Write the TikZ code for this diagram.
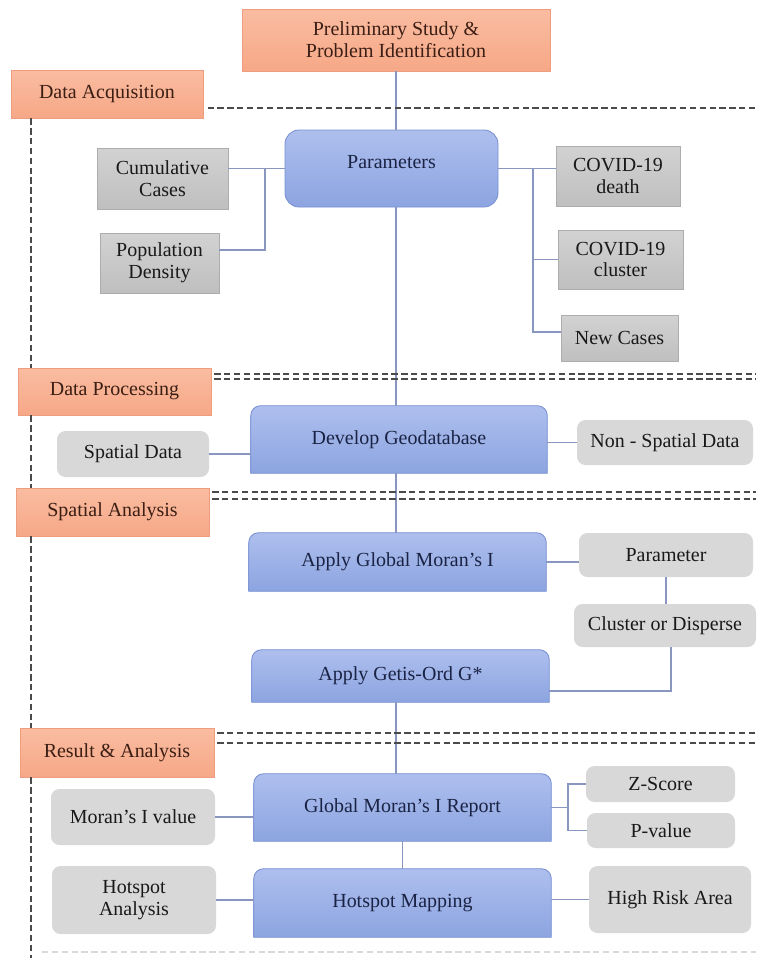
\documentclass[tikz,border=0pt]{standalone}
\usepackage{fontspec}
\setmainfont{Liberation Serif}
\usepackage{tikz}
\usetikzlibrary{backgrounds}
\usepackage{xcolor}

\definecolor{phasetop}{HTML}{FABCA1}
\definecolor{phasebot}{HTML}{F6A887}
\definecolor{phaseline}{HTML}{EE9E7E}
\definecolor{phasetext}{HTML}{3B1E14}
\definecolor{steptop}{HTML}{AEBFEE}
\definecolor{stepbot}{HTML}{8CA4E0}
\definecolor{stepline}{HTML}{7890D2}
\definecolor{steptext}{HTML}{1A2344}
\definecolor{paramtop}{HTML}{D2D2D2}
\definecolor{parambot}{HTML}{BFBFBF}
\definecolor{paramline}{HTML}{ADADAD}
\definecolor{detailgray}{HTML}{D8D8D8}
\definecolor{linkblue}{HTML}{8896C0}
\definecolor{dashgray}{HTML}{4A4A4A}

\tikzset{
  phase/.style={draw=phaseline, line width=0.6pt, top color=phasetop, bottom color=phasebot, text=phasetext, align=center},
  param/.style={draw=paramline, line width=0.6pt, top color=paramtop, bottom color=parambot, text=black!90, align=center},
  detail/.style={fill=detailgray, rounded corners=6pt, text=black!90, align=center},
  stepbox/.style={text=steptext, align=center},
  stepshade/.style={draw=stepline, line width=0.6pt, top color=steptop, bottom color=stepbot},
  link/.style={draw=linkblue, line width=1pt},
  divider/.style={draw=dashgray, line width=1pt, dash pattern=on 4.5pt off 2.5pt},
}

\begin{document}
\begin{tikzpicture}[font=\fontsize{14.2}{15.6}\selectfont]
    \useasboundingbox (0,0) rectangle (18.9,-23.95);

    \coordinate (lE) at (0.775,0);
    \coordinate (rE) at (18.9,0);

    % phases
    \node[phase, minimum width=7.7cm, minimum height=1.55cm] (PrSt) at (9.9,-1.0) {Preliminary Study \&\\Problem Identification};
    \node[phase, minimum width=4.8cm, minimum height=1.2cm] (DaAc) at (2.675,-2.35) {Data Acquisition};
    \node[phase, minimum width=4.825cm, minimum height=1.175cm] (DaPr) at (2.8625,-9.7875) {Data Processing};
    \node[phase, minimum width=4.825cm, minimum height=1.2cm] (SpAn) at (2.8125,-12.8) {Spatial Analysis};
    \node[phase, minimum width=4.85cm, minimum height=1.225cm] (ReAn) at (2.925,-18.8125) {Result \& Analysis};

    % data acquisition
    \node[draw=stepline, line width=0.6pt, top color=steptop, bottom color=stepbot, rounded corners=10pt, text=steptext,
          minimum width=5.325cm, minimum height=1.925cm] (Pars) at (9.7875,-4.2125) {\raisebox{0.16cm}[\height][\depth]{Parameters}};
    \node[param, minimum width=3.275cm, minimum height=1.525cm] (CuCa) at (4.0625,-4.4625) {Cumulative\\Cases};
    \node[param, minimum width=2.975cm, minimum height=1.5cm] (PoDe) at (3.9875,-6.575) {Population\\Density};
    \node[param, minimum width=3.1cm, minimum height=1.5cm] (CoDe) at (15.45,-4.4) {COVID-19\\death};
    \node[param, minimum width=3.125cm, minimum height=1.475cm] (CoCl) at (15.5125,-6.4875) {COVID-19\\cluster};
    \node[param, minimum width=2.925cm, minimum height=1.15cm] (NeCa) at (15.4875,-8.45) {New Cases};

    % data processing
    \node[stepbox, minimum width=7.4cm, minimum height=1.675cm] (DeGe) at (9.975,-10.9875) {Develop Geodatabase};
    \node[detail, minimum width=3.8cm, minimum height=1.15cm] (SpDa) at (3.325,-11.35) {Spatial Data};
    \node[detail, minimum width=4.4cm, minimum height=1.125cm] (NoSp) at (16.625,-11.0625) {Non - Spatial Data};

    % spatial analysis
    \node[stepbox, minimum width=7.425cm, minimum height=1.45cm] (ApGl) at (9.9375,-14.05) {Apply Global Moran’s I};
    \node[detail, minimum width=4.35cm, minimum height=1.1cm] (Para) at (16.65,-13.875) {Parameter};
    \node[detail, minimum width=4.55cm, minimum height=1.075cm] (ClDi) at (16.625,-15.6375) {Cluster or Disperse};
    \node[stepbox, minimum width=7.425cm, minimum height=1.3cm] (GeOr) at (10.0125,-16.9) {Apply Getis-Ord G*};

    % result and analysis
    \node[stepbox, minimum width=7.425cm, minimum height=1.675cm] (MoRe) at (10.0625,-20.1875) {Global Moran’s I Report};
    \node[detail, minimum width=4.1cm, minimum height=1.4cm] (MoVa) at (3.325,-20.425) {Moran’s I value};
    \node[detail, minimum width=3.725cm, minimum height=0.9cm] (ZSc) at (16.5125,-19.6) {Z-Score};
    \node[detail, minimum width=3.7cm, minimum height=0.875cm] (PVa) at (16.525,-20.7625) {P-value};
    \node[stepbox, minimum width=7.425cm, minimum height=1.7cm] (HoMa) at (10.0625,-22.575) {Hotspot Mapping};
    \node[detail, minimum width=4.1cm, minimum height=1.7cm] (HoAn) at (3.35,-22.5) {Hotspot\\Analysis};
    \node[detail, minimum width=4.05cm, minimum height=1.675cm] (HiRi) at (16.75,-22.4875) {High Risk Area};

    \begin{scope}[on background layer]
      \foreach \n in {DeGe,ApGl,GeOr,MoRe,HoMa}
        \draw[stepshade] (\n.south west) -- ([yshift=-7pt]\n.north west) arc[start angle=180,end angle=90,radius=7pt]
          -- ([xshift=-7pt]\n.north east) arc[start angle=90,end angle=0,radius=7pt] -- (\n.south east) -- cycle;
    \end{scope}

    \coordinate (jL) at (6.625,0);
    \coordinate (jR) at (13.325,0);
    \coordinate (jZ) at (14.2,0);

    % main column
    \draw[link] (PrSt.south) -- (PrSt.south |- Pars.north);
    \draw[link] (PrSt.south |- Pars.south) -- (PrSt.south |- DeGe.north);
    \draw[link] (PrSt.south |- DeGe.south) -- (PrSt.south |- ApGl.north);
    \draw[link] (PrSt.south |- GeOr.south) -- (PrSt.south |- MoRe.north);
    \draw[link] (MoRe.south) -- (HoMa.north);

    % branches
    \draw[link] (Pars.west) -- (Pars.west -| CuCa.east);
    \draw[link] (jL |- Pars.west) |- ([yshift=0.33cm]PoDe.east);
    \draw[link] (Pars.east) -- (Pars.east -| CoDe.west);
    \draw[link] (jR |- Pars.east) |- ([yshift=0.15cm]NeCa.west);
    \draw[link] (jR |- CoCl.west) -- (CoCl.west);

    \draw[link] (SpDa.east) -- (SpDa.east -| DeGe.west);
    \draw[link] (NoSp.west -| DeGe.east) -- (NoSp.west);

    \draw[link] (ApGl.east) -- (ApGl.east -| Para.west);
    \draw[link] (Para.south) -- (Para.south |- ClDi.north);
    \draw[link] ([xshift=0.15cm]ClDi.south) |- ([yshift=-0.375cm]GeOr.east);

    \draw[link] (MoVa.east) -- (MoVa.east -| MoRe.west);
    \draw[link] (MoRe.east) -- (MoRe.east -| jZ);
    \draw[link] (ZSc.west) -- (ZSc.west -| jZ) -- (PVa.west -| jZ) -- (PVa.west);
    \draw[link] (HoAn.east) -- (HoAn.east -| HoMa.west);
    \draw[link] (HiRi.west -| HoMa.east) -- (HiRi.west);

    % section borders
    \draw[divider] ([xshift=3pt,yshift=-0.35cm]DaAc.east) -- ([yshift=-0.35cm]DaAc.east -| rE);
    \draw[divider] ([xshift=2pt,yshift=0.4375cm]DaPr.east) -- ([yshift=0.4375cm]DaPr.east -| rE);
    \draw[divider] ([xshift=2pt,yshift=0.3125cm]DaPr.east) -- ([yshift=0.3125cm]DaPr.east -| rE);
    \draw[divider] ([xshift=2pt,yshift=0.5cm]SpAn.east) -- ([yshift=0.5cm]SpAn.east -| rE);
    \draw[divider] ([xshift=2pt,yshift=0.325cm]SpAn.east) -- ([yshift=0.325cm]SpAn.east -| rE);
    \draw[divider] ([xshift=2pt,yshift=0.4875cm]ReAn.east) -- ([yshift=0.4875cm]ReAn.east -| rE);
    \draw[divider] ([xshift=2pt,yshift=0.2375cm]ReAn.east) -- ([yshift=0.2375cm]ReAn.east -| rE);

    \draw[divider] (lE |- DaAc.south) -- (lE |- DaPr.north);
    \draw[divider] (lE |- DaPr.south) -- (lE |- SpAn.north);
    \draw[divider] (lE |- SpAn.south) -- (lE |- ReAn.north);
    \draw[divider] (lE |- ReAn.south) -- (0.775,-23.95);
    \draw[divider, draw=black!15] (1.05,-23.8) -- (18.9,-23.8);

\end{tikzpicture}
\end{document}
